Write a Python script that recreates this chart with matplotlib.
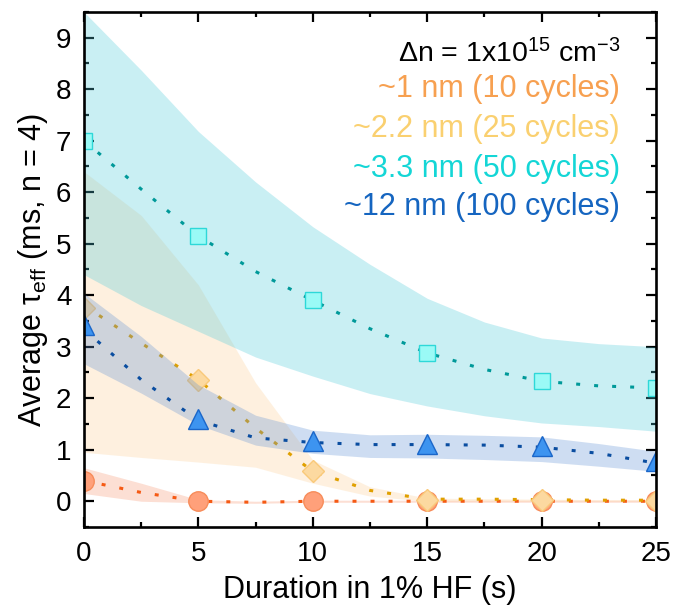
import matplotlib
matplotlib.use("Agg")
import matplotlib.pyplot as plt
from matplotlib.ticker import MultipleLocator

plt.rcParams['font.family'] = ['Liberation Sans', 'DejaVu Sans']
plt.rcParams['mathtext.fontset'] = 'custom'
plt.rcParams['mathtext.rm'] = 'Liberation Sans'
plt.rcParams['mathtext.it'] = 'Liberation Sans:italic'
plt.rcParams['mathtext.default'] = 'regular'

# measured points (HF dip duration in s, average lifetime in ms)
hf_time = [0, 5, 10, 15, 20, 25]
tau_1nm = [0.4, 0.0, 0.0, 0.0, 0.0, 0.0]
tau_2nm = [3.75, 2.36, 0.58, 0.03, 0.03, 0.0]
tau_3nm = [7.0, 5.15, 3.9, 2.88, 2.33, 2.2]
tau_12nm = [3.43, 1.6, 1.17, 1.12, 1.07, 0.79]

fit_time = [0, 2.5, 5, 7.5, 10, 12.5, 15, 17.5, 20, 22.5, 25]
fit_1nm = [0.4, 0.17, 0.0, -0.02, 0.0, 0.0, 0.0, 0.0, 0.0, 0.0, 0.0]
fit_2nm = [3.8, 3.07, 2.36, 1.42, 0.58, 0.21, 0.04, 0.04, 0.03, 0.02, 0.02]
fit_3nm = [7.0, 6.06, 5.15, 4.46, 3.9, 3.35, 2.88, 2.56, 2.33, 2.24, 2.2]
fit_12nm = [3.34, 2.36, 1.57, 1.23, 1.14, 1.1, 1.1, 1.09, 1.05, 0.93, 0.74]

band_1nm_lo = [0.15, 0.0, -0.03, -0.04, -0.02, -0.02, -0.02, -0.02, -0.02, -0.02, -0.02]
band_1nm_hi = [0.65, 0.35, 0.03, 0.0, 0.02, 0.02, 0.02, 0.02, 0.02, 0.02, 0.02]
band_2nm_lo = [0.95, 0.85, 0.76, 0.66, 0.35, 0.1, 0.0, 0.0, 0.0, 0.0, 0.0]
band_2nm_hi = [6.4, 5.55, 4.2, 2.3, 0.8, 0.28, 0.06, 0.05, 0.04, 0.03, 0.03]
band_3nm_lo = [4.4, 3.8, 3.3, 2.8, 2.43, 2.09, 1.85, 1.66, 1.52, 1.45, 1.36]
band_3nm_hi = [9.5, 8.37, 7.18, 6.2, 5.33, 4.6, 3.94, 3.48, 3.17, 3.06, 3.0]
band_12nm_lo = [2.67, 2.1, 1.48, 1.09, 0.93, 0.85, 0.84, 0.81, 0.77, 0.68, 0.58]
band_12nm_hi = [4.04, 3.2, 2.26, 1.67, 1.38, 1.29, 1.3, 1.28, 1.25, 1.12, 0.97]

labels = ["~1 nm (10 cycles)", "~2.2 nm (25 cycles)", "~3.3 nm (50 cycles)", "~12 nm (100 cycles)"]
label_colors = ['#F7A050', '#FAD070', '#14D6D6', '#1565C0']

fig = plt.figure(figsize=(6.73, 6.11), dpi=100)
ax = fig.add_axes([0.1248, 0.1375, 0.8499, 0.8429])

dots = (0, (1.3, 4.6))
lw_fit = 2.2

# ~1 nm
ax.fill_between(fit_time, band_1nm_lo, band_1nm_hi, color='#F56E3C', alpha=0.22, lw=0)
ax.plot(fit_time, fit_1nm, color='#F55A14', lw=lw_fit, ls=dots, dash_capstyle='butt', zorder=3)
ax.plot(hf_time, tau_1nm, 'o', ms=14, mfc='#FFA07A', mec='#F78C5A', mew=1, zorder=4)

# ~2.2 nm
ax.fill_between(fit_time, band_2nm_lo, band_2nm_hi, color='#FCD098', alpha=0.3, lw=0)
ax.plot(fit_time, fit_2nm, color='#E0A000', lw=lw_fit, ls=dots, dash_capstyle='butt', zorder=3)
ax.plot(hf_time, tau_2nm, 'D', ms=11.7, mfc='#FCD9A0', mec='#F9C97A', mew=1, zorder=4)

# ~3.3 nm
ax.fill_between(fit_time, band_3nm_lo, band_3nm_hi, color='#4ECADA', alpha=0.3, lw=0, zorder=5)
ax.plot(fit_time, fit_3nm, color='#009999', lw=lw_fit, ls=dots, dash_capstyle='butt', zorder=6)
ax.plot(hf_time, tau_3nm, 's', ms=12, mfc='#9AFAF6', mec='#2ED8D8', mew=1, zorder=7)

# ~12 nm
ax.fill_between(fit_time, band_12nm_lo, band_12nm_hi, color='#5F91D4', alpha=0.3, lw=0, zorder=5)
ax.plot(fit_time, fit_12nm, color='#0A4DA0', lw=lw_fit, ls=dots, dash_capstyle='butt', zorder=6)
ax.plot(hf_time, tau_12nm, '^', ms=15, mfc='#3D94F0', mec='#1A66C9', mew=1, zorder=7)

ax.set_xlim(0, 25)
ax.set_ylim(-0.5, 9.5)
ax.xaxis.set_major_locator(MultipleLocator(5))
ax.xaxis.set_minor_locator(MultipleLocator(2.5))
ax.yaxis.set_major_locator(MultipleLocator(1))
ax.yaxis.set_minor_locator(MultipleLocator(0.5))
ax.tick_params(which='both', direction='in', top=True, right=True, width=1.6, labelsize=20)
ax.tick_params(which='major', length=7.5)
ax.tick_params(which='minor', length=3.8)
ax.tick_params(axis='y', pad=9)
ax.tick_params(axis='x', pad=10)
for sp in ax.spines.values():
    sp.set_linewidth(1.9)
    sp.set_zorder(10)

ax.set_xlabel("Duration in 1% HF (s)", fontsize=22, labelpad=6)
ax.set_ylabel("Average τ$_{eff}$ (ms, n = 4)", fontsize=22, labelpad=4)

# annotation block in the upper right
ax.text(0.937, (527 - 62) / 515, "Δn = 1x10$^{15}$ cm$^{-3}$", transform=ax.transAxes,
        ha='right', va='baseline', fontsize=20.5, color='black', zorder=11)
row_base = [97, 137, 177, 215]
for lab, col, yb in zip(labels, label_colors, row_base):
    ax.text(0.937, (527 - yb) / 515, lab, transform=ax.transAxes,
            ha='right', va='baseline', fontsize=22, color=col, zorder=11)

fig.savefig("out.png", dpi=100)
